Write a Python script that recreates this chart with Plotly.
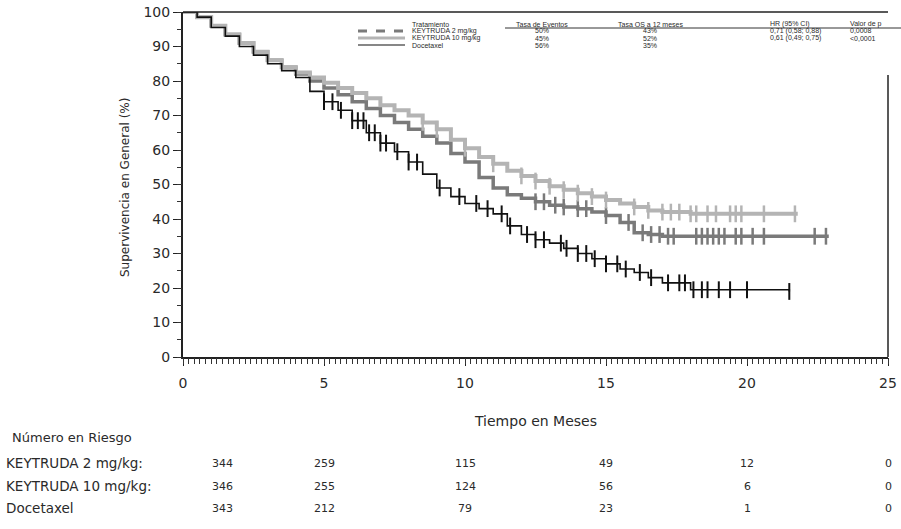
import numpy as np
import plotly.graph_objects as go

# ---------------- data ----------------
k2_t = [0, 0.5, 1, 1.5, 2, 2.5, 3, 3.5, 4, 4.5, 5, 5.5, 6, 6.5, 7, 7.5, 8, 8.5, 9, 9.5,
        10, 10.5, 11, 11.5, 12, 12.5, 13, 13.5, 14, 14.5, 15, 15.5, 16, 16.5, 17, 18, 22.9]
k2_s = [100, 98.5, 96, 93.5, 91, 88.5, 86, 84, 82, 80, 78, 76, 74, 72, 70, 68, 66, 64, 62, 59,
        56.5, 52, 49, 47, 46, 45, 44, 43.5, 43, 42, 41, 39, 36, 35.5, 35, 35, 35]

k10_t = [0, 0.5, 1, 1.5, 2, 2.5, 3, 3.5, 4, 4.5, 5, 5.5, 6, 6.5, 7, 7.5, 8, 8.5, 9, 9.5,
         10, 10.5, 11, 11.5, 12, 12.5, 13, 13.5, 14, 14.5, 15, 15.5, 16, 16.5, 17, 18, 21.8]
k10_s = [100, 98.5, 96, 93.5, 91, 88.5, 86, 84, 82.5, 81, 79.5, 78, 76.5, 75, 73, 71.5, 70, 68, 66, 63,
         60.5, 58, 56, 54, 52.5, 51, 49.5, 48.5, 47.5, 46.5, 45.5, 44.5, 43.5, 42.5, 42, 41.5, 41.5]

doc_t = [0, 0.5, 1, 1.5, 2, 2.5, 3, 3.5, 4, 4.5, 5, 5.5, 6, 6.5, 7, 7.5, 8, 8.5, 9, 9.5,
         10, 10.5, 11, 11.5, 12, 12.5, 13, 13.5, 14, 14.5, 15, 15.5, 16, 16.5, 17, 18, 21.5]
doc_s = [100, 98.5, 95.5, 93, 90, 87.5, 85, 83, 81, 77, 74, 71.5, 68.5, 65, 62, 59.5, 56.5, 53, 49, 46.5,
         44.5, 43, 41.5, 38, 35.5, 34, 33, 31.5, 30, 28.5, 27, 25.5, 24.5, 23, 21.5, 19.5, 19]

k2_cens = [12.5, 12.8, 13.2, 13.5, 14.0, 14.3, 15.0, 15.8, 16.3, 16.6, 16.9, 17.2, 17.4, 18.2, 18.4,
           18.6, 18.8, 19.0, 19.2, 19.6, 19.8, 20.2, 20.6, 22.4, 22.8]
k10_cens = [8.5, 9.0, 10.0, 11.0, 12.0, 12.5, 13.0, 13.5, 14.0, 14.5, 15.0, 16.0, 16.5, 17.0, 17.3,
            17.6, 18.0, 18.2, 18.6, 18.9, 19.4, 19.6, 19.8, 20.6, 21.7]
doc_cens = [5.0, 5.3, 5.6, 6.0, 6.2, 6.4, 6.6, 6.8, 7.0, 7.2, 7.6, 8.0, 8.3, 9.1, 9.8, 10.4, 10.8,
            11.3, 11.6, 12.2, 12.5, 12.8, 13.4, 13.6, 14.0, 14.3, 14.6, 15.0, 15.4, 15.7, 16.2, 16.6,
            17.2, 17.6, 17.8, 18.1, 18.4, 18.6, 19.0, 19.4, 20.0, 21.5]

series_names = ["KEYTRUDA 2 mg/kg", "KEYTRUDA 10 mg/kg", "Docetaxel"]
event_rate = ["50%", "45%", "56%"]
os12 = ["43%", "52%", "35%"]
hr_ci = ["0,71 (0,58; 0,88)", "0,61 (0,49; 0,75)", ""]
p_val = ["0,0008", "<0,0001", ""]

risk_times = [0, 5, 10, 15, 20, 25]
risk_k2 = [344, 259, 115, 49, 12, 0]
risk_k10 = [346, 255, 124, 56, 6, 0]
risk_doc = [343, 212, 79, 23, 1, 0]
risk_labels = ["KEYTRUDA 2 mg/kg:", "KEYTRUDA 10 mg/kg:", "Docetaxel"]

# ---------------- layout geometry ----------------
W, H = 901, 529
L, R, T, B = 183, 13, 12, 172
PW, PH = W - L - R, H - T - B

def px(x):
    return (x - L) / PW

def py(y):
    return (H - B - y) / PH

FONT = "DejaVu Sans, Verdana, sans-serif"
SMALL = "Liberation Sans, Arial, sans-serif"
TXT = "#2a2a2a"

def step_val(times, surv, t):
    i = np.searchsorted(np.array(times), t, side="right") - 1
    return surv[max(i, 0)]

fig = go.Figure()

styles = [
    dict(color="#7a7a7a", width=3.5),
    dict(color="#b4b4b4", width=4),
    dict(color="#111111", width=1.6),
]
curves = [(k2_t, k2_s, k2_cens), (k10_t, k10_s, k10_cens), (doc_t, doc_s, doc_cens)]

for (tt, ss, cc), st, nm in zip(curves, styles, series_names):
    fig.add_trace(go.Scatter(x=tt, y=ss, mode="lines", line=dict(shape="hv", **st),
                             name=nm, showlegend=False, hoverinfo="skip"))
    fig.add_trace(go.Scatter(x=cc, y=[step_val(tt, ss, c) for c in cc], mode="markers",
                             marker=dict(symbol="line-ns", size=12,
                                         line=dict(color=st["color"], width=2.5 if st["width"] > 2 else 2)),
                             showlegend=False, hoverinfo="skip"))

# invisible trace on overlay axes that carry the dense minor ticks
fig.add_trace(go.Scatter(x=[0], y=[0], xaxis="x2", yaxis="y2", mode="markers",
                         marker=dict(opacity=0), showlegend=False, hoverinfo="skip"))

fig.update_layout(
    xaxis=dict(range=[0, 25], tickmode="linear", tick0=0, dtick=5, ticks="outside", ticklen=7,
               tickwidth=1, tickcolor="#222", showline=True, linecolor="#222", linewidth=2,
               showgrid=False, zeroline=False, fixedrange=True, ticklabelstandoff=5,
               tickfont=dict(family=FONT, size=14, color=TXT)),
    yaxis=dict(range=[0, 100], tickmode="linear", tick0=0, dtick=10, ticks="outside", ticklen=8,
               tickwidth=1, tickcolor="#222", showline=True, linecolor="#222", linewidth=2,
               showgrid=False, zeroline=False, fixedrange=True,
               tickfont=dict(family=FONT, size=14, color=TXT)),
    xaxis2=dict(overlaying="x", anchor="y", side="bottom", range=[0, 25], tickmode="linear",
                tick0=0, dtick=0.2, ticks="outside", ticklen=6, tickwidth=1, tickcolor="#333",
                showticklabels=False, showline=False, showgrid=False, zeroline=False, fixedrange=True),
    yaxis2=dict(overlaying="y", anchor="x", side="left", range=[0, 100], tickmode="linear",
                tick0=0, dtick=5, ticks="outside", ticklen=5, tickwidth=1, tickcolor="#333",
                showticklabels=False, showline=False, showgrid=False, zeroline=False, fixedrange=True),
)

shapes = [
    dict(type="line", xref="paper", yref="paper", x0=0, x1=1, y0=1, y1=1,
         line=dict(color="#222", width=1.5)),
    dict(type="line", xref="paper", yref="paper", x0=1, x1=1, y0=0, y1=py(75),
         line=dict(color="#222", width=1.5)),
    dict(type="line", xref="paper", yref="paper", x0=px(358), x1=px(405), y0=py(31), y1=py(31),
         line=dict(color="#7a7a7a", width=3, dash="dash")),
    dict(type="line", xref="paper", yref="paper", x0=px(358), x1=px(405), y0=py(38), y1=py(38),
         line=dict(color="#b4b4b4", width=3)),
    dict(type="line", xref="paper", yref="paper", x0=px(358), x1=px(405), y0=py(45), y1=py(45),
         line=dict(color="#111", width=1.2)),
    dict(type="line", xref="paper", yref="paper", x0=px(505), x1=px(901), y0=py(28), y1=py(28),
         line=dict(color="#333", width=1)),
]

ann = []
def text(x, y, s, size=12, xanchor="left", angle=0, color=TXT, family=FONT):
    ann.append(dict(x=px(x), y=py(y), xref="paper", yref="paper", text=s, showarrow=False,
                    xanchor=xanchor, yanchor="middle", textangle=angle,
                    font=dict(family=family, size=size, color=color)))

text(125, 188, "Supervivencia en General (%)", size=12, xanchor="center", angle=-90)
text(535, 421, "Tiempo en Meses", size=14, xanchor="center")

# legend table
text(410, 24, "Tratamiento", size=7, family=SMALL)
text(542, 24, "Tasa de Eventos", size=7, xanchor="center", family=SMALL)
text(650, 24, "Tasa OS a 12 meses", size=7, xanchor="center", family=SMALL)
text(790, 24, "HR (95% CI)", size=7, xanchor="center", family=SMALL)
text(848, 24, "Valor de p", size=7, family=SMALL)
for i, y in enumerate([31, 38, 45]):
    text(410, y, series_names[i], size=7, family=SMALL)
    text(542, y, event_rate[i], size=7, xanchor="center", family=SMALL)
    text(650, y, os12[i], size=7, xanchor="center", family=SMALL)
    if hr_ci[i]:
        text(795, y, hr_ci[i], size=7, xanchor="center", family=SMALL)
        text(848, y, p_val[i], size=7, family=SMALL)

# risk table
text(10, 437, "Número en Riesgo", size=13)
risk_rows = [risk_k2, risk_k10, risk_doc]
for i, y in enumerate([463, 486, 508]):
    text(4, y, risk_labels[i], size=13.5)
    for j, (t, n) in enumerate(zip(risk_times, risk_rows[i])):
        if j == 0:
            text(222, y, str(n), size=11, xanchor="center")
        else:
            ann.append(dict(x=t, y=py(y), xref="x", yref="paper", text=str(n), showarrow=False,
                            xanchor="center", yanchor="middle",
                            font=dict(family=FONT, size=11, color=TXT)))

fig.update_layout(width=W, height=H,
                  margin=dict(l=L, r=R, t=T, b=B, autoexpand=False),
                  paper_bgcolor="white", plot_bgcolor="white",
                  shapes=shapes, annotations=ann, showlegend=False)

fig.write_html("out.html", config={"displayModeBar": False},
               post_script="document.body.style.margin='0px';")
